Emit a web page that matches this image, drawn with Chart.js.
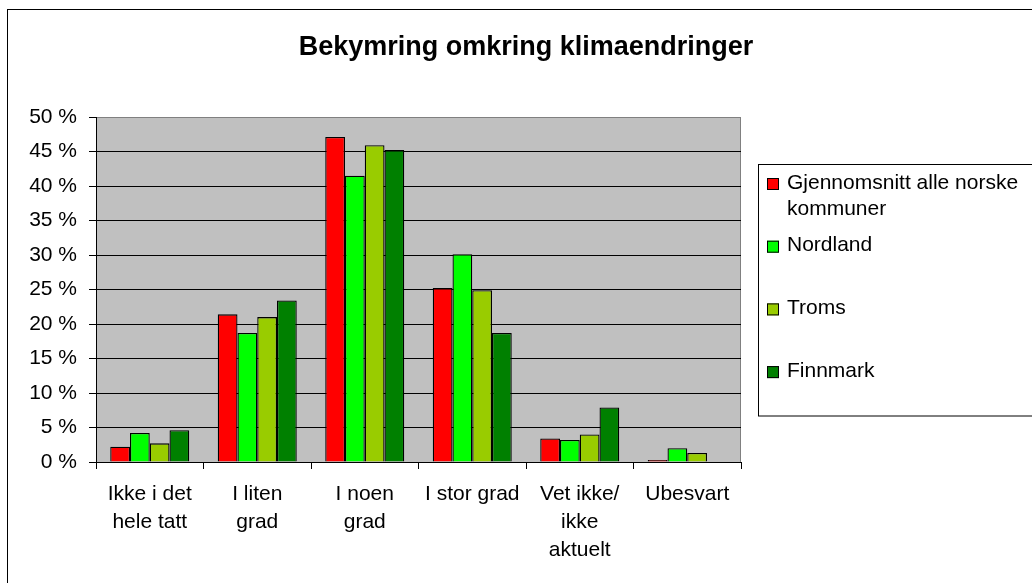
<!DOCTYPE html>
<html>
<head>
<meta charset="utf-8">
<script src="https://cdn.jsdelivr.net/npm/chart.js@4"></script>
<style>
  html, body { margin: 0; padding: 0; background: #fff; }
  canvas { display: block; }
</style>
</head>
<body>
<canvas id="klimaChart" width="1032" height="583"></canvas>
<script>
const categories = [['Ikke i det', 'hele tatt'], ['I liten', 'grad'], ['I noen', 'grad'], 'I stor grad', ['Vet ikke/', 'ikke', 'aktuelt'], 'Ubesvart'];
const seriesNames = ['Gjennomsnitt alle norske kommuner', 'Nordland', 'Troms', 'Finnmark'];
const snittValues = [2.2, 21.4, 47.1, 25.2, 3.4, 0.3];
const nordlandValues = [4.2, 18.7, 41.5, 30.1, 3.2, 2.0];
const tromsValues = [2.7, 21.0, 45.9, 24.9, 4.0, 1.3];
const finnmarkValues = [4.6, 23.4, 45.2, 18.7, 7.9, 0];
const yTickValues = [0, 5, 10, 15, 20, 25, 30, 35, 40, 45, 50];

const seriesColors = ['#ff0000', '#00ff00', '#99cc00', '#008000'];
const seriesValues = [snittValues, nordlandValues, tromsValues, finnmarkValues];

Chart.defaults.font.family = "'Liberation Sans', Arial, sans-serif";
Chart.defaults.color = '#000';

// grey plot area + outer frame
const backdrop = {
    id: 'backdrop',
    beforeDraw(chart) {
        const ctx = chart.ctx;
        const a = chart.chartArea;
        ctx.save();
        ctx.fillStyle = '#fff';
        ctx.fillRect(0, 0, chart.width, chart.height);
        ctx.strokeStyle = '#000';
        ctx.lineWidth = 1;
        ctx.strokeRect(7.5, 9.5, 1100, 1000);
        ctx.fillStyle = '#c0c0c0';
        ctx.fillRect(a.left, a.top, a.right - a.left, a.bottom - a.top);
        ctx.strokeStyle = '#808080';
        ctx.strokeRect(a.left + 0.5, a.top + 0.5, a.right - a.left - 1, a.bottom - a.top);
        ctx.restore();
    }
};

// legend box on the right, labels wrap like the original
const sideLegend = {
    id: 'sideLegend',
    afterDraw(chart) {
        const ctx = chart.ctx;
        ctx.save();
        ctx.strokeStyle = '#000';
        ctx.lineWidth = 1;
        ctx.strokeRect(758.5, 164.5, 400, 251.5);
        ctx.font = "21px 'Liberation Sans', Arial, sans-serif";
        ctx.textBaseline = 'middle';
        chart.data.datasets.forEach(function (ds, i) {
            const y = 184 + i * 62.7;
            ctx.fillStyle = ds.backgroundColor;
            ctx.fillRect(767, y - 6, 12, 12);
            ctx.strokeStyle = '#000';
            ctx.strokeRect(767.5, y - 5.5, 11, 11);
            // simple word wrap
            const words = ds.label.split(' ');
            const lines = [];
            let line = '';
            words.forEach(function (w) {
                const test = line ? line + ' ' + w : w;
                if (ctx.measureText(test).width > 240 && line) {
                    lines.push(line);
                    line = w;
                } else {
                    line = test;
                }
            });
            lines.push(line);
            ctx.fillStyle = '#000';
            lines.forEach(function (l, j) {
                ctx.fillText(l, 787, y - 1 + j * 26);
            });
        });
        ctx.restore();
    }
};

const ctx = document.getElementById('klimaChart').getContext('2d');
const klimaChart = new Chart(ctx, {
    type: 'bar',
    data: {
        labels: categories,
        datasets: seriesNames.map(function (name, i) {
            return {
                label: name,
                data: seriesValues[i],
                backgroundColor: seriesColors[i],
                borderColor: '#000',
                borderWidth: 1.3,
                barPercentage: 1,
                categoryPercentage: 0.735,
                yAxisID: 'y'
            };
        })
    },
    options: {
        responsive: false,
        animation: false,
        devicePixelRatio: 1,
        layout: {
            padding: { left: 20, right: 0, top: 0, bottom: 0 }
        },
        plugins: {
            legend: { display: false },
            tooltip: { enabled: false },
            title: {
                display: true,
                text: 'Bekymring omkring klimaendringer',
                font: { size: 27, weight: 'bold' },
                color: '#000',
                padding: { top: 31, bottom: 53.6 }
            }
        },
        scales: {
            x: {
                afterFit: function (scale) { scale.height = 121; },
                offset: true,
                grid: {
                    offset: true,
                    drawOnChartArea: false,
                    drawTicks: true,
                    tickLength: 7,
                    color: '#000'
                },
                border: { color: '#000', width: 1 },
                ticks: {
                    autoSkip: false,
                    maxRotation: 0,
                    minRotation: 0,
                    padding: 11,
                    color: '#000',
                    font: { size: 21, lineHeight: 1.333 }
                }
            },
            y: {
                min: 0,
                max: 50,
                afterFit: function (scale) { scale.width = 76; },
                afterBuildTicks: function (scale) {
                    scale.ticks = yTickValues.map(function (v) { return { value: v }; });
                },
                grid: {
                    color: function (c) { return c.tick && c.tick.value === 50 ? '#808080' : '#000'; },
                    tickColor: '#000',
                    tickLength: 7,
                    lineWidth: 1
                },
                border: { color: '#000', width: 1 },
                ticks: {
                    padding: 12,
                    color: '#000',
                    font: { size: 21 },
                    callback: function (v) { return v + ' %'; }
                }
            },
            // empty right-hand space reserved for the legend box
            legendSpace: {
                position: 'right',
                min: 0,
                max: 50,
                afterFit: function (scale) { scale.width = 291; },
                grid: { display: false, drawTicks: false },
                border: { display: false },
                ticks: { display: false }
            }
        }
    },
    plugins: [backdrop, sideLegend]
});
</script>
</body>
</html>
